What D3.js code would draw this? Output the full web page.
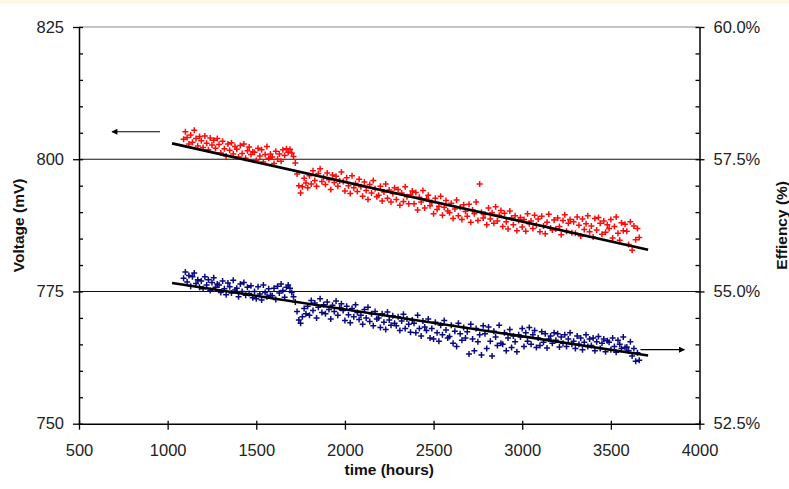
<!DOCTYPE html>
<html>
<head>
<meta charset="utf-8">
<script src="https://cdn.jsdelivr.net/npm/d3@7"></script>
<style>
  html, body { margin: 0; padding: 0; background: #ffffff; }
  svg { display: block; }
  text { font-family: "Liberation Sans", Arial, sans-serif; }
</style>
</head>
<body>
<div id="chart"></div>
<script>
// ---- data ----
const hours = [
  1090,1100,1110,1120,1130,1140,1150,1160,1170,1180,
  1190,1200,1210,1220,1230,1240,1250,1260,1270,1280,
  1290,1300,1310,1320,1330,1340,1350,1360,1370,1380,
  1390,1400,1410,1420,1430,1440,1450,1460,1470,1480,
  1490,1500,1510,1520,1530,1540,1550,1560,1570,1580,
  1590,1600,1610,1620,1630,1640,1650,1660,1670,1680,
  1690,1700,1710,1720,1730,1740,1750,1760,1770,1780,
  1790,1800,1810,1820,1830,1840,1850,1860,1870,1880,
  1890,1900,1910,1920,1930,1940,1950,1960,1970,1980,
  1990,2000,2010,2020,2030,2040,2050,2060,2070,2080,
  2090,2100,2110,2120,2130,2140,2150,2160,2170,2180,
  2190,2200,2210,2220,2230,2240,2250,2260,2270,2280,
  2290,2300,2310,2320,2330,2340,2350,2360,2370,2380,
  2390,2400,2410,2420,2430,2440,2450,2460,2470,2480,
  2490,2500,2510,2520,2530,2540,2550,2560,2570,2580,
  2590,2600,2610,2620,2630,2640,2650,2660,2670,2680,
  2690,2700,2710,2720,2730,2740,2750,2760,2770,2780,
  2790,2800,2810,2820,2830,2840,2850,2860,2870,2880,
  2890,2900,2910,2920,2930,2940,2950,2960,2970,2980,
  2990,3000,3010,3020,3030,3040,3050,3060,3070,3080,
  3090,3100,3110,3120,3130,3140,3150,3160,3170,3180,
  3190,3200,3210,3220,3230,3240,3250,3260,3270,3280,
  3290,3300,3310,3320,3330,3340,3350,3360,3370,3380,
  3390,3400,3410,3420,3430,3440,3450,3460,3470,3480,
  3490,3500,3510,3520,3530,3540,3550,3560,3570,3580,
  3590,3600,3610,3620,3630,3640,3650,3660
];

// Voltage (mV), left axis
const voltage = [
  803.8,805.2,804.1,802.9,804.6,803.2,805.5,803.9,802.5,804.3,
  803.5,802.2,804.4,803.0,801.8,804.0,802.7,803.6,802.1,803.9,
  802.8,801.2,803.4,802.0,800.6,802.9,801.7,803.1,801.0,802.4,
  801.9,800.4,802.6,801.1,802.9,800.2,801.6,802.3,800.9,801.4,
  801.3,799.8,802.1,800.6,801.8,799.5,800.9,802.4,800.2,801.0,
  800.4,799.2,801.5,800.0,801.0,799.6,801.8,800.7,802.0,801.3,
  801.9,801.2,800.5,799.3,797.2,795.0,793.6,794.8,796.4,795.5,
  794.6,796.9,795.3,797.8,796.0,794.9,797.3,798.2,795.8,796.6,
  795.2,797.4,796.1,794.3,797.0,795.6,796.8,794.9,795.9,797.6,
  795.8,794.0,796.5,795.0,793.5,796.9,794.6,795.4,793.9,796.2,
  794.8,793.0,795.7,794.1,792.4,795.2,793.6,796.0,794.4,792.9,
  793.2,794.9,792.1,793.8,795.3,792.6,794.2,791.9,793.5,794.6,
  792.4,794.3,791.3,793.6,792.0,794.8,792.9,791.6,793.3,794.0,
  791.6,793.7,790.4,792.8,791.9,794.1,790.8,792.5,793.2,791.2,
  791.8,789.7,792.6,790.5,791.1,793.0,789.4,790.9,792.2,790.2,
  789.9,791.7,788.8,790.6,792.3,789.3,790.9,788.6,791.4,790.1,
  789.2,791.5,788.1,790.4,789.7,791.9,788.4,795.3,790.0,788.9,
  789.6,787.6,790.8,788.7,789.9,787.9,791.0,788.3,789.4,790.3,
  787.3,789.8,788.2,786.8,790.2,788.9,787.6,789.3,786.5,788.4,
  789.0,787.2,788.6,786.4,789.7,787.8,788.3,786.9,789.4,787.5,
  788.7,786.3,789.2,787.4,785.9,788.1,789.6,787.0,786.6,788.5,
  786.8,788.9,787.3,785.7,788.4,789.5,786.4,787.9,788.6,786.1,
  788.2,786.0,789.1,787.5,785.5,788.7,786.7,787.8,789.3,786.3,
  787.4,785.3,788.8,786.6,789.0,787.9,785.8,788.3,786.2,787.6,
  786.9,788.6,785.1,787.3,789.1,786.0,784.7,788.0,786.5,787.7,
  786.4,783.9,788.2,782.8,787.4,784.8,786.9,785.2
];

// Efficiency (%), right axis
const efficiency = [
  55.25,55.37,55.18,55.30,55.10,55.28,55.35,55.15,55.22,55.08,
  55.20,55.05,55.28,55.12,55.22,55.02,55.17,55.26,55.08,55.14,
  55.12,54.98,55.20,55.05,54.94,55.16,55.09,54.97,55.21,55.03,
  55.06,54.90,55.14,55.00,55.17,54.93,55.08,54.96,55.11,54.88,
  55.00,54.86,55.09,54.95,54.84,55.12,54.98,54.90,55.05,54.93,
  54.92,55.06,54.85,55.10,54.97,55.14,55.02,54.89,55.08,55.12,
  55.06,54.98,54.90,54.80,54.62,54.46,54.40,54.52,54.68,54.58,
  54.72,54.55,54.83,54.64,54.78,54.50,54.70,54.86,54.60,54.75,
  54.58,54.80,54.66,54.48,54.74,54.62,54.82,54.55,54.69,54.77,
  54.64,54.45,54.72,54.56,54.41,54.68,54.52,54.75,54.60,54.47,
  54.55,54.38,54.66,54.50,54.70,54.43,54.58,54.35,54.62,54.48,
  54.50,54.32,54.58,54.42,54.28,54.61,54.46,54.36,54.54,54.40,
  54.35,54.52,54.26,54.44,54.57,54.30,54.48,54.38,54.23,54.46,
  54.40,54.22,54.55,54.30,54.16,54.44,54.33,54.26,54.48,54.12,
  54.30,54.10,54.42,54.22,54.06,54.36,54.18,54.45,54.27,54.12,
  54.15,54.36,54.02,54.25,53.96,54.40,54.20,54.08,54.32,54.12,
  54.24,53.82,54.38,54.10,53.88,54.30,54.05,54.18,53.80,54.35,
  54.20,53.92,54.33,54.06,53.78,54.25,54.14,53.98,54.36,54.02,
  54.00,54.22,53.88,54.12,54.28,53.94,54.16,54.05,53.86,54.18,
  54.14,54.30,53.96,54.22,54.06,54.32,54.00,54.18,54.26,53.94,
  54.12,53.98,54.24,54.04,54.20,53.93,54.10,54.16,54.02,54.22,
  54.08,54.20,53.95,54.14,54.02,54.18,53.96,54.10,54.22,54.00,
  54.06,53.92,54.16,54.00,54.12,53.90,54.04,54.18,53.96,54.10,
  53.98,54.12,53.88,54.05,54.15,53.92,54.02,54.10,53.86,54.07,
  54.04,53.90,54.12,53.96,53.85,54.08,54.00,53.92,54.14,53.94,
  53.95,53.88,54.05,53.78,53.92,53.68,53.84,53.70
];

// linear trend lines (end points)
const trendHours = [1025, 3710];
const voltageTrend = [803.0, 782.9];
const efficiencyTrend = [55.16, 53.79];

// annotation arrows
const voltArrow = { fromHour: 957, toHour: 686, value: 805.2 };
const effArrow  = { fromHour: 3667, toHour: 3915, value: 53.9 };

// axes
const xTicks = [500, 1000, 1500, 2000, 2500, 3000, 3500, 4000];
const voltTicks = [750, 775, 800, 825];
const effTicks = [52.5, 55.0, 57.5, 60.0];
const voltGrid = [775, 800];

// ---- chart ----
const W = 789, H = 489;
const m = { left: 79, right: 89.5, top: 27, bottom: 65.3 };
const iw = W - m.left - m.right, ih = H - m.top - m.bottom;

const svg = d3.select("#chart").append("svg").attr("width", W).attr("height", H);
svg.append("rect").attr("x", 0).attr("y", 0).attr("width", W).attr("height", H).attr("fill", "#ffffff");
svg.append("rect").attr("x", 0).attr("y", 0).attr("width", W).attr("height", 4).attr("fill", "#fdf8e6");

const g = svg.append("g").attr("transform", `translate(${m.left},${m.top})`);

const x = d3.scaleLinear().domain([500, 4000]).range([0, iw]);
const yV = d3.scaleLinear().domain([750, 825]).range([ih, 0]);
const yE = d3.scaleLinear().domain([52.5, 60]).range([ih, 0]);

// top border
g.append("line").attr("x1", 0).attr("x2", iw).attr("y1", 0).attr("y2", 0)
  .attr("stroke", "#8a8a8a").attr("stroke-width", 1);

// gridlines
g.selectAll(".grid").data(voltGrid).join("line")
  .attr("x1", 0).attr("x2", iw)
  .attr("y1", d => yV(d)).attr("y2", d => yV(d))
  .attr("stroke", "#111").attr("stroke-width", 1.1);

// scatter markers
function plus(sel, xs, ys, yScale, color) {
  const pts = xs.map((h, i) => [x(h), yScale(ys[i])]);
  sel.append("path")
    .attr("d", pts.map(([px, py]) => `M${px - 3},${py}h6M${px},${py - 3}v6`).join(""))
    .attr("stroke", color).attr("stroke-width", 1.5).attr("fill", "none");
}
plus(g, hours, voltage, yV, "#ff0a0a");
plus(g, hours, efficiency, yE, "#0a0a80");

// trend lines
const tl = (ys, yScale) => d3.line().x((d, i) => x(trendHours[i])).y((d) => yScale(d))(ys);
g.append("path").attr("d", tl(voltageTrend, yV)).attr("stroke", "#000").attr("stroke-width", 2.6).attr("fill", "none");
g.append("path").attr("d", tl(efficiencyTrend, yE)).attr("stroke", "#000").attr("stroke-width", 2.6).attr("fill", "none");

// arrows
const defs = svg.append("defs");
defs.append("marker").attr("id", "ah").attr("viewBox", "0 0 10 10")
  .attr("refX", 9).attr("refY", 5).attr("markerWidth", 7).attr("markerHeight", 6)
  .attr("markerUnits", "userSpaceOnUse").attr("orient", "auto")
  .append("path").attr("d", "M0,0L10,5L0,10Z").attr("fill", "#000");
g.append("line")
  .attr("x1", x(voltArrow.fromHour)).attr("x2", x(voltArrow.toHour))
  .attr("y1", yV(voltArrow.value)).attr("y2", yV(voltArrow.value))
  .attr("stroke", "#000").attr("stroke-width", 1.2).attr("marker-end", "url(#ah)");
g.append("line")
  .attr("x1", x(effArrow.fromHour)).attr("x2", x(effArrow.toHour))
  .attr("y1", yE(effArrow.value)).attr("y2", yE(effArrow.value))
  .attr("stroke", "#000").attr("stroke-width", 1.2).attr("marker-end", "url(#ah)");

// axes
function styleAxis(sel) {
  sel.select(".domain").attr("stroke", "#000").attr("stroke-width", 1.5);
  sel.selectAll(".tick line").attr("stroke", "#000").attr("stroke-width", 1.3);
  sel.selectAll("text").attr("fill", "#222").style("font-size", "16.5px")
    .style("font-family", '"Liberation Sans", Arial, sans-serif');
}

// left minor (inward) + major
g.append("g").call(d3.axisLeft(yV).tickValues(d3.range(750, 826, 5)).tickSize(-4).tickFormat(""))
  .call(s => { s.select(".domain").remove(); s.selectAll(".tick line").attr("stroke", "#000").attr("stroke-width", 1.3); });
g.append("g").call(d3.axisLeft(yV).tickValues(voltTicks).tickSizeInner(6).tickSizeOuter(0).tickPadding(9).tickFormat(d3.format("d")))
  .call(styleAxis);

// right minor + major
g.append("g").attr("transform", `translate(${iw},0)`)
  .call(d3.axisRight(yE).tickValues(d3.range(52.5, 60.01, 0.5)).tickSize(-4).tickFormat(""))
  .call(s => { s.select(".domain").remove(); s.selectAll(".tick line").attr("stroke", "#000").attr("stroke-width", 1.3); });
g.append("g").attr("transform", `translate(${iw},0)`)
  .call(d3.axisRight(yE).tickValues(effTicks).tickSizeInner(5).tickSizeOuter(0).tickPadding(9).tickFormat(d => d.toFixed(1) + "%"))
  .call(styleAxis);

// bottom
g.append("g").attr("transform", `translate(0,${ih})`)
  .call(d3.axisBottom(x).tickValues(xTicks).tickSize(-3).tickFormat(""))
  .call(s => { s.select(".domain").remove(); s.selectAll(".tick line").attr("stroke", "#000").attr("stroke-width", 1.3); });
g.append("g").attr("transform", `translate(0,${ih})`)
  .call(d3.axisBottom(x).tickValues(xTicks).tickSizeInner(6).tickSizeOuter(0).tickPadding(15).tickFormat(d3.format("d")))
  .call(styleAxis);

// titles
svg.append("text").attr("x", m.left + iw / 2).attr("y", 475).attr("text-anchor", "middle")
  .style("font-size", "15.5px").style("font-weight", "bold").attr("fill", "#111").text("time (hours)");
svg.append("text").attr("transform", `translate(24,${m.top + ih / 2}) rotate(-90)`).attr("text-anchor", "middle")
  .style("font-size", "15.5px").style("font-weight", "bold").attr("fill", "#111").text("Voltage (mV)");
svg.append("text").attr("transform", `translate(787,${m.top + ih / 2}) rotate(-90)`).attr("text-anchor", "middle")
  .style("font-size", "15.5px").style("font-weight", "bold").attr("fill", "#111").text("Effiency (%)");
</script>
</body>
</html>
